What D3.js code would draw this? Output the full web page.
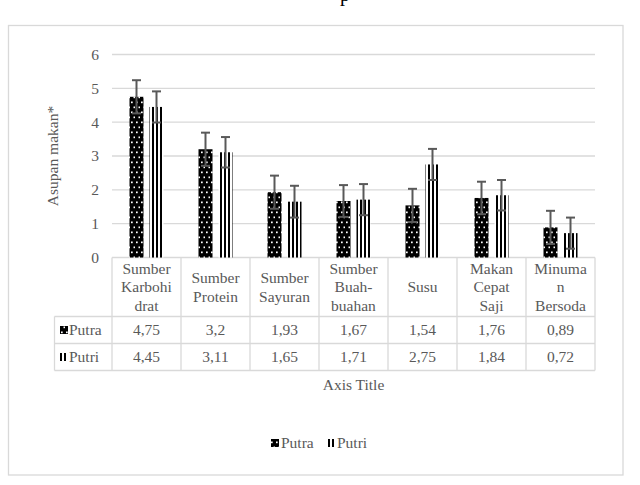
<!DOCTYPE html>
<html><head><meta charset="utf-8">
<script src="https://cdn.jsdelivr.net/npm/d3@7"></script>
<style>body{margin:0;background:#fff;} svg{display:block;}</style>
</head><body>
<svg id="c" width="640" height="485" font-family="'Liberation Serif', 'Times New Roman', Times, serif"></svg>
<script>
const categories = [["Sumber","Karbohi","drat"],["Sumber","Protein"],["Sumber","Sayuran"],["Sumber","Buah-","buahan"],["Susu"],["Makan","Cepat","Saji"],["Minuma","n","Bersoda"]];
const seriesNames = ["Putra","Putri"];
const putra = [4.75,3.2,1.93,1.67,1.54,1.76,0.89];
const putri = [4.45,3.11,1.65,1.71,2.75,1.84,0.72];
const putraErr = [0.49,0.49,0.49,0.47,0.49,0.48,0.49];
const putriErr = [0.46,0.45,0.47,0.46,0.46,0.45,0.46];
const yTicks = [0,1,2,3,4,5,6];
const yTitle = "Asupan makan*";
const xTitle = "Axis Title";

const svg = d3.select("#c");
const grey = "#595959", line = "#d9d9d9", fs = 15.5;
const defs = svg.append("defs");
const pDot = defs.append("pattern").attr("id","dots").attr("patternUnits","userSpaceOnUse").attr("width",5).attr("height",10);
pDot.append("rect").attr("width",5).attr("height",10).attr("fill","#000");
pDot.append("rect").attr("x",1).attr("y",1.5).attr("width",1.7).attr("height",1.7).attr("fill","#fff");
pDot.append("rect").attr("x",3.5).attr("y",6.5).attr("width",1.7).attr("height",1.7).attr("fill","#fff");
const pStr = defs.append("pattern").attr("id","stripes").attr("patternUnits","userSpaceOnUse").attr("width",4).attr("height",4);
pStr.append("rect").attr("width",4).attr("height",4).attr("fill","#fff");
pStr.append("rect").attr("width",2).attr("height",4).attr("fill","#000");
const fills = {Putra:"url(#dots)", Putri:"url(#stripes)"};

// partial caption above chart (cut off by the top edge, as in the source)
svg.append("text").attr("x",340).attr("y",0.5).attr("font-size",20).attr("fill","#000").text("p");

// outer border
svg.append("rect").attr("x",8.5).attr("y",25.5).attr("width",614.5).attr("height",449.5).attr("fill","none").attr("stroke",line).attr("stroke-width",1.3);

const x = d3.scaleBand().domain(d3.range(categories.length)).range([112,595]);
const xs = d3.scaleBand().domain(seriesNames).range([(x.bandwidth()-34)/2,(x.bandwidth()+34)/2]).paddingInner(0.3);
const y = d3.scaleLinear().domain([0,6]).range([257.5,54.5]);

svg.append("g").selectAll("line").data(yTicks).join("line")
  .attr("x1",112).attr("x2",595).attr("y1",d=>y(d)).attr("y2",d=>y(d))
  .attr("stroke",line).attr("stroke-width",1.3);
svg.append("g").selectAll("text").data(yTicks).join("text")
  .attr("x",99).attr("y",d=>y(d)).attr("dy","0.35em").attr("text-anchor","end")
  .attr("font-size",fs).attr("fill",grey).text(d=>d);
svg.append("text").attr("transform",`translate(58,${(y(0)+y(6))/2}) rotate(-90)`)
  .attr("text-anchor","middle").attr("font-size",fs).attr("fill",grey).text(yTitle);

const data = seriesNames.map((s,si)=>({name:s, vals: si===0?putra:putri, errs: si===0?putraErr:putriErr}));
data.forEach(s=>{
  const g = svg.append("g");
  g.selectAll("rect").data(s.vals).join("rect")
    .attr("x",(d,i)=>x(i)+xs(s.name)).attr("width",xs.bandwidth())
    .attr("y",d=>y(d)).attr("height",d=>y(0)-y(d)).attr("fill",fills[s.name]);
  const eg = svg.append("g").attr("stroke",grey).attr("stroke-width",2);
  s.vals.forEach((v,i)=>{
    const cx = x(i)+xs(s.name)+xs.bandwidth()/2, e = s.errs[i];
    eg.append("line").attr("x1",cx).attr("x2",cx).attr("y1",y(v+e)).attr("y2",y(v-e));
    eg.append("line").attr("x1",cx-4.5).attr("x2",cx+4.5).attr("y1",y(v+e)).attr("y2",y(v+e));
    eg.append("line").attr("x1",cx-4.5).attr("x2",cx+4.5).attr("y1",y(v-e)).attr("y2",y(v-e));
  });
});

const rowTop = 257.5, hdrBot = 316.5, r1 = 343.5, r2 = 370.5, leftCol = 54.5;
const tg = svg.append("g").attr("stroke",line).attr("stroke-width",1.3);
[hdrBot,r1,r2].forEach(yy=>tg.append("line").attr("x1",leftCol).attr("x2",595).attr("y1",yy).attr("y2",yy));
d3.range(categories.length+1).forEach(i=>{
  const xx = i<categories.length? x(i): 595;
  tg.append("line").attr("x1",xx).attr("x2",xx).attr("y1",rowTop).attr("y2",r2);
});
tg.append("line").attr("x1",leftCol).attr("x2",leftCol).attr("y1",hdrBot).attr("y2",r2);

const lh = 18.5;
categories.forEach((lines,i)=>{
  const cx = x(i)+x.bandwidth()/2, mid = (rowTop+hdrBot)/2;
  const t = svg.append("text").attr("text-anchor","middle").attr("font-size",fs).attr("fill",grey);
  lines.forEach((l,k)=>{
    t.append("tspan").attr("x",cx).attr("y",mid+(k-(lines.length-1)/2)*lh).attr("dy","0.35em").text(l);
  });
});
const fmt = v=>String(v).replace(".",",");
data.forEach((s,si)=>{
  const ym = si===0?(hdrBot+r1)/2:(r1+r2)/2;
  svg.append("g").selectAll("text").data(s.vals).join("text")
    .attr("x",(d,i)=>x(i)+x.bandwidth()/2).attr("y",ym).attr("dy","0.35em").attr("text-anchor","middle")
    .attr("font-size",fs).attr("fill",grey).text(fmt);
  svg.append("rect").attr("x",60).attr("y",ym-4).attr("width",8).attr("height",8).attr("fill",fills[s.name]);
  svg.append("text").attr("x",69).attr("y",ym).attr("dy","0.35em").attr("font-size",fs).attr("fill",grey).text(s.name);
});

svg.append("text").attr("x",(112+595)/2).attr("y",385).attr("dy","0.35em").attr("text-anchor","middle")
  .attr("font-size",fs).attr("fill",grey).text(xTitle);

const leg = [{n:"Putra",x:271},{n:"Putri",x:327}];
leg.forEach(l=>{
  svg.append("rect").attr("x",l.x).attr("y",439).attr("width",8).attr("height",8).attr("fill",fills[l.n]);
  svg.append("text").attr("x",l.x+10).attr("y",443).attr("dy","0.35em").attr("font-size",fs).attr("fill",grey).text(l.n);
});
</script>
</body></html>
